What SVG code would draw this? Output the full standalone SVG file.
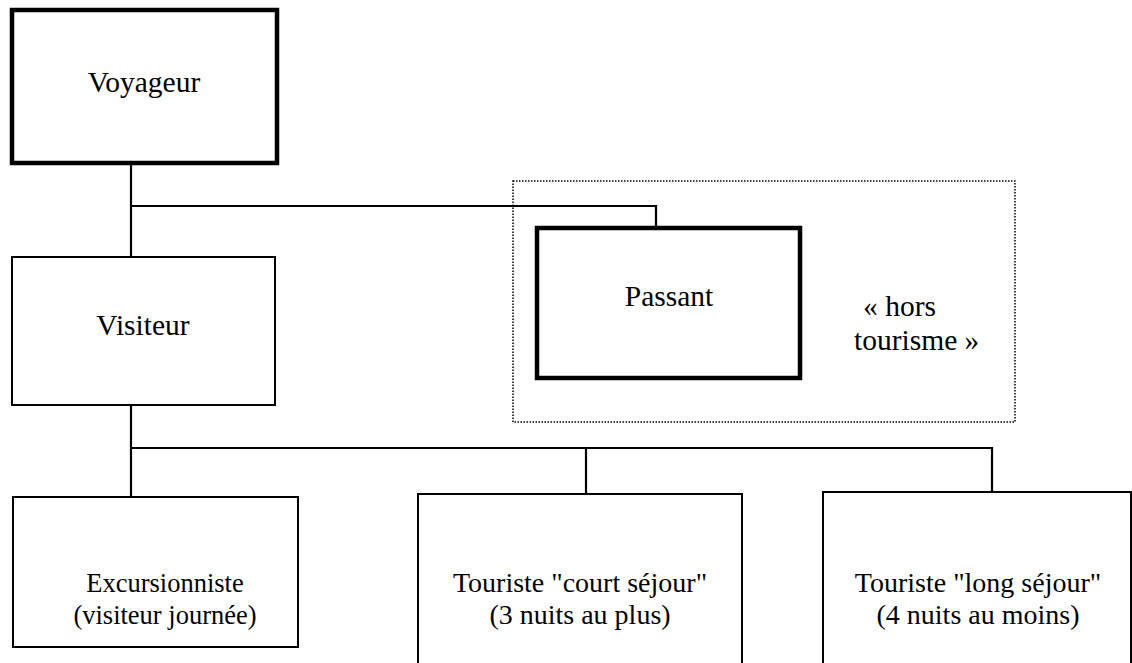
<svg xmlns="http://www.w3.org/2000/svg" width="1132" height="663" viewBox="0 0 1132 663">
<style>
.box{fill:#fff;stroke:#000;stroke-width:2}
.thick{fill:#fff;stroke:#000;stroke-width:4.5}
.dot{fill:none;stroke:#000;stroke-width:1.5;stroke-dasharray:1.5 1.5}
.ln{fill:none;stroke:#000;stroke-width:2.2}
text{font-family:"Liberation Serif","Times New Roman",serif;font-size:28px;fill:#000}
.big{font-size:29.5px}
.c{text-anchor:middle}
</style>
<rect width="1132" height="663" fill="#fff"/>
<g id="connectors">
<path class="ln" d="M131,163 V257 M131,206 H656 V228"/>
<path class="ln" d="M131,405 V497 M131,448 H992 V492 M586,448 V494"/>
</g>
<g id="hors-tourisme">
<rect class="dot" x="513" y="181" width="502" height="241"/>
<text class="big" x="863" y="316">« hors</text>
<text class="big" x="854" y="350">tourisme »</text>
</g>
<g id="voyageur">
<rect class="thick" x="12" y="10" width="265" height="153"/>
<text class="c big" x="144" y="92">Voyageur</text>
</g>
<g id="visiteur">
<rect class="box" x="12" y="257" width="263" height="148"/>
<text class="c big" x="143" y="335">Visiteur</text>
</g>
<g id="passant">
<rect class="thick" x="537" y="228" width="263" height="150"/>
<text class="c big" x="669" y="306">Passant</text>
</g>
<g id="excursionniste">
<rect class="box" x="13" y="497" width="285" height="150"/>
<text class="c" x="165" y="592" style="font-size:26.5px">Excursionniste</text>
<text class="c" x="165" y="624" style="font-size:26.5px">(visiteur journée)</text>
</g>
<g id="court-sejour">
<rect class="box" x="418" y="494" width="324" height="172"/>
<text class="c" x="580" y="592">Touriste "court séjour"</text>
<text class="c" x="580" y="624">(3 nuits au plus)</text>
</g>
<g id="long-sejour">
<rect class="box" x="823" y="492" width="308" height="180"/>
<text class="c" x="978" y="592">Touriste "long séjour"</text>
<text class="c" x="978" y="624">(4 nuits au moins)</text>
</g>
</svg>
